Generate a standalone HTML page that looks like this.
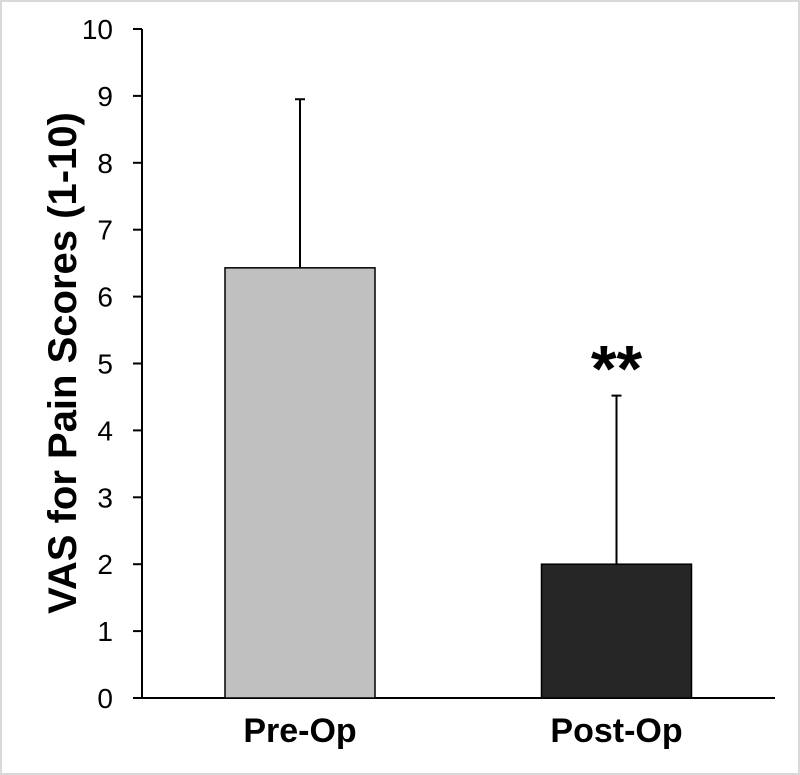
<!DOCTYPE html>
<html><head><meta charset="utf-8"><style>
html,body{margin:0;padding:0;background:#fff}
svg{display:block}
text{font-family:"Liberation Sans",Arial,sans-serif}
</style></head><body>
<svg id="chart" width="800" height="775">
<rect x="1" y="1" width="798" height="773" fill="#fff" stroke="#d9d9d9" stroke-width="2"/>
<g id="g"></g>
</svg>
<script>
const categories=["Pre-Op","Post-Op"];
const means=[6.43,2.0];
const errors=[2.52,2.52];
const colors=["#c0c0c0","#262626"];
const yTicks=[0,1,2,3,4,5,6,7,8,9,10];
const sigLabels=["","**"];
const NS="http://www.w3.org/2000/svg";
const g=document.getElementById('g');
const x0=142,x1=775,y0=698,y10=29;
const y=v=>y0-(v/10)*(y0-y10);
const xc=i=>300+i*316.5;
const bw=150;
function mk(t,a){const e=document.createElementNS(NS,t);for(const k in a)e.setAttribute(k,a[k]);g.appendChild(e);return e;}
let ax=mk('line',{x1:x0,y1:y10,x2:x0,y2:y0,stroke:'#000','stroke-width':2});


let xa=mk('line',{x1:x0-9,y1:y0,x2:x1,y2:y0,stroke:'#000','stroke-width':2});


yTicks.forEach(v=>{
 let t=mk('line',{x1:x0-9,y1:y(v),x2:x0,y2:y(v),stroke:'#000','stroke-width':2});
 
 
 let l=mk('text',{x:x0-29,y:y(v)+10,'text-anchor':'end','font-size':28});
 l.textContent=v;
 
 
});
let tt=mk('text',{x:0,y:0,'font-size':40,'font-weight':'bold','text-anchor':'middle',transform:'translate(76,363) rotate(-90)'});
tt.textContent='VAS for Pain Scores (1-10)';


categories.forEach((c,i)=>{
 const cx=xc(i);
 let e=mk('line',{x1:cx,y1:y(means[i]),x2:cx,y2:y(means[i]+errors[i]),stroke:'#000','stroke-width':2});
 
 
 let cap=mk('line',{x1:cx-5,y1:y(means[i]+errors[i]),x2:cx+5,y2:y(means[i]+errors[i]),stroke:'#000','stroke-width':2});
 
 
 let b=mk('rect',{x:cx-bw/2,y:y(means[i]),width:bw,height:y0-y(means[i]),fill:colors[i],stroke:'#000','stroke-width':1.5});
 
 
 let l=mk('text',{x:cx,y:742,'text-anchor':'middle','font-size':34,'font-weight':'bold'});
 l.textContent=c;
 
 
 if(sigLabels[i]){
  let s=mk('text',{x:cx,y:y(means[i]+errors[i])-4,'text-anchor':'middle','font-size':66,'font-weight':'bold'});
  s.textContent=sigLabels[i];
  
  
 }
});
</script>
</body></html>
